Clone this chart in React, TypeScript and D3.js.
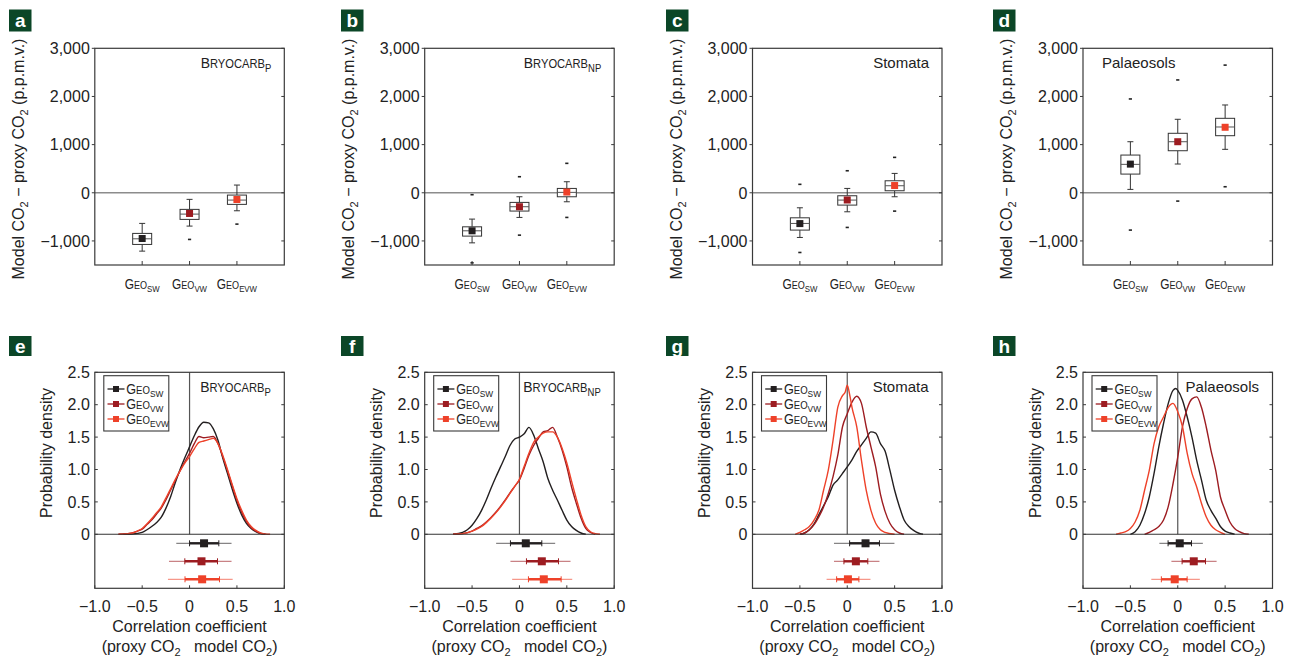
import React from 'react';
import * as d3 from 'd3';

const W = 1291;
const H = 660;
const FONT = '"Liberation Sans", Arial, Helvetica, sans-serif';

// series + panels
const seriesKeys = ['SW', 'VW', 'EVW'];
const seriesColors = ['#231f20', '#9d1c21', '#ee4129'];
const topLetters = ['a', 'b', 'c', 'd'];
const bottomLetters = ['e', 'f', 'g', 'h'];
const proxyNames = ['BryocarbP', 'BryocarbNP', 'Stomata', 'Palaeosols'];

const boxTicks = [3000, 2000, 1000, 0, -1000];
const densTicks = [0, 0.5, 1, 1.5, 2, 2.5];
const corrTicks = [-1, -0.5, 0, 0.5, 1];

// box plots: whisker lo, q1, median, q3, whisker hi, mean, outliers (p.p.m.v.)
const boxBryoP = [
  { lo: -1212, q1: -1073, med: -956, q3: -844, hi: -636, mean: -950, out: [] },
  { lo: -692, q1: -553, med: -443, q3: -345, hi: -137, mean: -430, out: [-969] },
  { lo: -374, q1: -241, med: -152, q3: -48, hi: 160, mean: -140, out: [-651] },
];
const boxBryoNP = [
  { lo: -1040, q1: -900, med: -790, q3: -707, hi: -547, mean: -790, out: [-40, -1455] },
  { lo: -512, q1: -380, med: -290, q3: -200, hi: -83, mean: -290, out: [333, -880] },
  { lo: -187, q1: -83, med: 8, q3: 90, hi: 229, mean: 15, out: [611, -512] },
];
const boxStomata = [
  { lo: -928, q1: -775, med: -637, q3: -520, hi: -312, mean: -640, out: [175, -1240] },
  { lo: -395, q1: -256, med: -152, q3: -62, hi: 90, mean: -150, out: [457, -720] },
  { lo: -83, q1: 42, med: 146, q3: 249, hi: 402, mean: 150, out: [735, -381] },
];
const boxPalaeo = [
  { lo: 70, q1: 388, med: 590, q3: 783, hi: 1060, mean: 595, out: [1948, -775] },
  { lo: 597, q1: 873, med: 1060, q3: 1235, hi: 1526, mean: 1060, out: [2343, -173] },
  { lo: 902, q1: 1185, med: 1366, q3: 1546, hi: 1823, mean: 1360, out: [2651, 125] },
];

// probability density curves [correlation, density]
const densBryoP_SW = [[-0.7, 0], [-0.6, 0.005], [-0.5, 0.03], [-0.45, 0.07], [-0.4, 0.12], [-0.35, 0.18], [-0.3, 0.26], [-0.25, 0.4], [-0.2, 0.58], [-0.15, 0.8], [-0.1, 1.0], [-0.05, 1.18], [0, 1.35], [0.05, 1.52], [0.1, 1.66], [0.15, 1.73], [0.2, 1.72], [0.25, 1.63], [0.3, 1.45], [0.35, 1.18], [0.4, 0.94], [0.45, 0.7], [0.5, 0.48], [0.55, 0.3], [0.6, 0.17], [0.65, 0.09], [0.7, 0.04], [0.75, 0.01], [0.8, 0]];
const densBryoP_VW = [[-0.75, 0], [-0.65, 0.01], [-0.55, 0.05], [-0.5, 0.08], [-0.45, 0.15], [-0.4, 0.22], [-0.35, 0.31], [-0.3, 0.4], [-0.25, 0.53], [-0.2, 0.68], [-0.15, 0.83], [-0.1, 0.98], [-0.05, 1.12], [0, 1.25], [0.05, 1.4], [0.1, 1.51], [0.15, 1.49], [0.2, 1.5], [0.25, 1.51], [0.3, 1.4], [0.35, 1.2], [0.4, 0.98], [0.45, 0.75], [0.5, 0.52], [0.55, 0.34], [0.6, 0.2], [0.65, 0.1], [0.7, 0.05], [0.75, 0.015], [0.8, 0]];
const densBryoP_EVW = [[-0.75, 0], [-0.65, 0.01], [-0.6, 0.02], [-0.55, 0.05], [-0.5, 0.09], [-0.45, 0.16], [-0.4, 0.24], [-0.35, 0.33], [-0.3, 0.42], [-0.25, 0.56], [-0.2, 0.7], [-0.15, 0.85], [-0.1, 0.98], [-0.05, 1.1], [0, 1.2], [0.05, 1.32], [0.1, 1.42], [0.15, 1.44], [0.2, 1.46], [0.25, 1.48], [0.3, 1.4], [0.35, 1.22], [0.4, 1.0], [0.45, 0.77], [0.5, 0.55], [0.55, 0.37], [0.6, 0.22], [0.65, 0.12], [0.7, 0.06], [0.75, 0.02], [0.8, 0.005], [0.85, 0]];

const densBryoNP_SW = [[-0.7, 0], [-0.6, 0.03], [-0.55, 0.07], [-0.5, 0.14], [-0.45, 0.24], [-0.4, 0.37], [-0.35, 0.53], [-0.3, 0.71], [-0.25, 0.88], [-0.2, 1.04], [-0.15, 1.2], [-0.1, 1.37], [-0.05, 1.47], [0, 1.5], [0.05, 1.55], [0.1, 1.65], [0.15, 1.53], [0.2, 1.32], [0.25, 1.12], [0.3, 0.86], [0.35, 0.68], [0.4, 0.53], [0.45, 0.37], [0.5, 0.22], [0.55, 0.12], [0.6, 0.06], [0.65, 0.02], [0.7, 0]];
const densBryoNP_VW = [[-0.7, 0], [-0.6, 0.01], [-0.5, 0.05], [-0.45, 0.09], [-0.4, 0.13], [-0.35, 0.19], [-0.3, 0.26], [-0.25, 0.34], [-0.2, 0.43], [-0.15, 0.53], [-0.1, 0.64], [-0.05, 0.74], [0, 0.84], [0.05, 1.02], [0.1, 1.22], [0.15, 1.37], [0.2, 1.48], [0.25, 1.58], [0.3, 1.6], [0.35, 1.65], [0.4, 1.5], [0.45, 1.3], [0.5, 1.04], [0.55, 0.73], [0.6, 0.48], [0.65, 0.25], [0.7, 0.09], [0.75, 0.03], [0.8, 0]];
const densBryoNP_EVW = [[-0.7, 0], [-0.6, 0.01], [-0.5, 0.05], [-0.45, 0.08], [-0.4, 0.12], [-0.35, 0.18], [-0.3, 0.25], [-0.25, 0.33], [-0.2, 0.42], [-0.15, 0.52], [-0.1, 0.63], [-0.05, 0.74], [0, 0.85], [0.05, 1.05], [0.1, 1.25], [0.15, 1.42], [0.2, 1.5], [0.25, 1.56], [0.3, 1.58], [0.35, 1.58], [0.4, 1.5], [0.45, 1.33], [0.5, 1.1], [0.55, 0.82], [0.6, 0.55], [0.65, 0.3], [0.7, 0.12], [0.75, 0.04], [0.8, 0.01], [0.85, 0]];

const densStomata_SW = [[-0.5, 0], [-0.45, 0.02], [-0.4, 0.07], [-0.35, 0.16], [-0.3, 0.3], [-0.25, 0.44], [-0.2, 0.58], [-0.15, 0.76], [-0.1, 0.84], [-0.05, 0.94], [0, 1.04], [0.05, 1.15], [0.1, 1.28], [0.15, 1.38], [0.2, 1.48], [0.25, 1.58], [0.3, 1.56], [0.35, 1.4], [0.4, 1.28], [0.45, 0.99], [0.5, 0.68], [0.55, 0.43], [0.6, 0.22], [0.65, 0.12], [0.7, 0.06], [0.75, 0.02], [0.8, 0]];
const densStomata_VW = [[-0.5, 0], [-0.45, 0.02], [-0.4, 0.07], [-0.35, 0.15], [-0.3, 0.27], [-0.25, 0.42], [-0.2, 0.63], [-0.15, 0.89], [-0.1, 1.22], [-0.05, 1.66], [0, 1.86], [0.05, 2.04], [0.1, 2.13], [0.15, 2.02], [0.2, 1.66], [0.25, 1.35], [0.3, 1.04], [0.35, 0.62], [0.4, 0.35], [0.45, 0.17], [0.5, 0.07], [0.55, 0.02], [0.6, 0]];
const densStomata_EVW = [[-0.55, 0], [-0.5, 0.03], [-0.45, 0.07], [-0.4, 0.12], [-0.35, 0.22], [-0.3, 0.37], [-0.25, 0.68], [-0.2, 0.99], [-0.15, 1.45], [-0.1, 1.96], [-0.05, 2.14], [-0.02, 2.2], [0, 2.3], [0.03, 2.12], [0.05, 1.96], [0.1, 1.66], [0.15, 1.14], [0.2, 0.68], [0.25, 0.37], [0.3, 0.17], [0.35, 0.07], [0.4, 0.03], [0.5, 0]];

const densPalaeo_SW = [[-0.5, 0], [-0.45, 0.04], [-0.4, 0.14], [-0.35, 0.32], [-0.3, 0.58], [-0.25, 0.94], [-0.2, 1.35], [-0.15, 1.71], [-0.1, 2.02], [-0.05, 2.22], [-0.02, 2.25], [0, 2.22], [0.05, 2.07], [0.1, 1.81], [0.15, 1.5], [0.2, 1.14], [0.25, 0.84], [0.3, 0.53], [0.35, 0.37], [0.4, 0.25], [0.45, 0.12], [0.5, 0.05], [0.55, 0.02], [0.6, 0]];
const densPalaeo_VW = [[-0.35, 0], [-0.3, 0.03], [-0.25, 0.07], [-0.2, 0.12], [-0.15, 0.22], [-0.1, 0.43], [-0.05, 0.78], [0, 1.19], [0.05, 1.66], [0.1, 1.94], [0.15, 2.09], [0.2, 2.12], [0.25, 1.96], [0.3, 1.66], [0.35, 1.3], [0.4, 0.99], [0.45, 0.58], [0.5, 0.37], [0.55, 0.19], [0.6, 0.09], [0.65, 0.04], [0.7, 0.01], [0.75, 0]];
const densPalaeo_EVW = [[-0.65, 0], [-0.6, 0.02], [-0.55, 0.04], [-0.5, 0.09], [-0.45, 0.19], [-0.4, 0.37], [-0.35, 0.68], [-0.3, 0.99], [-0.25, 1.4], [-0.2, 1.66], [-0.15, 1.81], [-0.1, 1.96], [-0.05, 2.02], [0, 1.89], [0.05, 1.66], [0.1, 1.25], [0.15, 0.94], [0.2, 0.73], [0.25, 0.48], [0.3, 0.27], [0.35, 0.14], [0.4, 0.07], [0.45, 0.03], [0.5, 0]];

// correlation summaries: [lo95, lo68, mean, hi68, hi95]
const ciBryoP = [[-0.14, 0.0, 0.153, 0.309, 0.443], [-0.217, -0.05, 0.126, 0.295, 0.443], [-0.228, -0.048, 0.133, 0.316, 0.455]];
const ciBryoNP = [[-0.246, -0.095, 0.067, 0.236, 0.377], [-0.095, 0.074, 0.236, 0.412, 0.539], [-0.077, 0.095, 0.257, 0.44, 0.557]];
const ciStomata = [[-0.14, 0.025, 0.193, 0.34, 0.498], [-0.14, -0.035, 0.091, 0.217, 0.34], [-0.218, -0.112, 0.007, 0.123, 0.245]];
const ciPalaeo = [[-0.194, -0.102, 0.021, 0.145, 0.265], [-0.067, 0.046, 0.169, 0.293, 0.41], [-0.279, -0.173, -0.032, 0.099, 0.233]];

const boxData = [boxBryoP, boxBryoNP, boxStomata, boxPalaeo];
const densData = [
  [densBryoP_SW, densBryoP_VW, densBryoP_EVW],
  [densBryoNP_SW, densBryoNP_VW, densBryoNP_EVW],
  [densStomata_SW, densStomata_VW, densStomata_EVW],
  [densPalaeo_SW, densPalaeo_VW, densPalaeo_EVW],
];
const ciData = [ciBryoP, ciBryoNP, ciStomata, ciPalaeo];

// layout
const colLeft = [94.8, 424.7, 752.5, 1083];
const plotW = 189.5;
const tagX = [9, 341, 666, 993];
const topFrame = { top: 48.3, bottom: 265 };
const botFrame = { top: 372.3, zero: 534.3, bottom: 588.3 };
const frameColor = '#3a3a3a';

const fmtThousands = d3.format(',');
const fmtDens = (d: number) => (d === 0 ? '0' : d3.format('.1f')(d));
const fmtCorr = (d: number) => (d === 0 ? '0' : d3.format('.1f')(d));

function Tag({ x, y, h, letter }: any) {
  return (
    <g>
      <rect x={x} y={y} width={22.5} height={h} fill="#0b4627" />
      <text x={x + 11.25} y={y + h / 2 + 6.5} textAnchor="middle" fill="#fff" fontWeight="bold" fontSize={19}>
        {letter}
      </text>
    </g>
  );
}

function GeoText({ x, y, sub, size, anchor, sx }: any) {
  return (
    <text transform={`translate(${x},${y}) scale(${sx},1)`} textAnchor={anchor} fontSize={size} fill="#222">
      <tspan>G</tspan>
      <tspan fontSize={size * 0.76}>EO</tspan>
      <tspan fontSize={size * 0.66} dy={size * 0.22}>{sub}</tspan>
    </text>
  );
}

function ProxyLabel({ name, x, y, anchor }: any) {
  const size = 15;
  if (name === 'BryocarbP' || name === 'BryocarbNP') {
    return (
      <text transform={`translate(${x},${y}) scale(0.93,1)`} textAnchor={anchor} fontSize={size} fill="#222">
        <tspan>B</tspan>
        <tspan fontSize={size * 0.8}>RYOCARB</tspan>
        <tspan fontSize={size * 0.68} dy={4}>{name === 'BryocarbP' ? 'P' : 'NP'}</tspan>
      </text>
    );
  }
  return (
    <text x={x} y={y} textAnchor={anchor} fontSize={size} fill="#222">
      {name}
    </text>
  );
}

function BoxPanel({ col }: any) {
  const left = colLeft[col];
  const right = left + plotW;
  const boxes = boxData[col];
  const x = d3.scaleLinear().domain([0, 4]).range([left, right]);
  const y = d3.scaleLinear().domain([-1500, 3000]).range([topFrame.bottom, topFrame.top]);
  const bw = 19;
  const cap = 6;
  const ms = 7;
  const name = proxyNames[col];
  return (
    <g>
      <Tag x={tagX[col]} y={9.5} h={22} letter={topLetters[col]} />
      <line x1={left} x2={right} y1={y(0)} y2={y(0)} stroke="#8c8c8c" strokeWidth={1.6} />
      {boxes.map((b: any, i: number) => {
        const cx = x(i + 1);
        return (
          <g key={i} stroke="#333" strokeWidth={1}>
            <line x1={cx} x2={cx} y1={y(b.hi)} y2={y(b.q3)} />
            <line x1={cx} x2={cx} y1={y(b.q1)} y2={y(b.lo)} />
            <line x1={cx - cap / 2} x2={cx + cap / 2} y1={y(b.hi)} y2={y(b.hi)} />
            <line x1={cx - cap / 2} x2={cx + cap / 2} y1={y(b.lo)} y2={y(b.lo)} />
            <rect x={cx - bw / 2} y={y(b.q3)} width={bw} height={y(b.q1) - y(b.q3)} fill="#fff" />
            <line x1={cx - bw / 2} x2={cx + bw / 2} y1={y(b.med)} y2={y(b.med)} stroke="#555" />
            <rect x={cx - ms / 2} y={y(b.mean) - ms / 2} width={ms} height={ms} fill={seriesColors[i]} stroke="none" />
            {b.out.map((o: number, k: number) => (
              <line key={k} x1={cx - 1.6} x2={cx + 1.6} y1={y(o)} y2={y(o)} stroke="#222" strokeWidth={1.6} />
            ))}
          </g>
        );
      })}
      <rect x={left} y={topFrame.top} width={plotW} height={topFrame.bottom - topFrame.top} fill="none" stroke={frameColor} strokeWidth={1.2} />
      {boxTicks.map((t) => (
        <g key={t}>
          <line x1={left - 3} x2={left} y1={y(t)} y2={y(t)} stroke={frameColor} />
          <line x1={right - 3} x2={right} y1={y(t)} y2={y(t)} stroke={frameColor} />
          <text x={left - 5} y={y(t)} dy="0.36em" textAnchor="end" fontSize={16} fill="#222">
            {fmtThousands(t)}
          </text>
        </g>
      ))}
      {seriesKeys.map((s, i) => (
        <g key={s}>
          <line x1={x(i + 1)} x2={x(i + 1)} y1={topFrame.bottom} y2={topFrame.bottom - 4} stroke={frameColor} />
          <GeoText x={x(i + 1)} y={289} sub={s} size={14} anchor="middle" sx={0.85} />
        </g>
      ))}
      <text transform={`translate(${left - 71},159) rotate(-90)`} textAnchor="middle" fontSize={16} fill="#222">
        Model CO<tspan fontSize={11} dy={4}>2</tspan>
        <tspan dy={-4}> − proxy CO</tspan>
        <tspan fontSize={11} dy={4}>2</tspan>
        <tspan dy={-4}> (p.p.m.v.)</tspan>
      </text>
      {name === 'Palaeosols' ? (
        <ProxyLabel name={name} x={left + 19} y={68} anchor="start" />
      ) : (
        <ProxyLabel name={name} x={right - 13} y={68} anchor="end" />
      )}
    </g>
  );
}

function DensPanel({ col }: any) {
  const left = colLeft[col];
  const right = left + plotW;
  const curves = densData[col];
  const cis = ciData[col];
  const x = d3.scaleLinear().domain([-1, 1]).range([left, right]);
  const y = d3.scaleLinear().domain([0, 2.5]).range([botFrame.zero, botFrame.top]);
  const line = d3
    .line<number[]>()
    .x((d) => x(d[0]))
    .y((d) => y(d[1]))
    .curve(d3.curveMonotoneX);
  const rowY = [9, 27, 45];
  const lgTop = botFrame.top + 3.4;
  const lgRows = [16.7, 31.7, 46.7];
  return (
    <g>
      <Tag x={tagX[col]} y={336} h={20} letter={bottomLetters[col]} />
      <line x1={x(0)} x2={x(0)} y1={botFrame.top} y2={botFrame.zero} stroke="#555" strokeWidth={1.2} />
      {curves.map((c: any, i: number) => (
        <path key={i} d={line(c) || ''} fill="none" stroke={seriesColors[i]} strokeWidth={1.4} />
      ))}
      <line x1={left} x2={right} y1={botFrame.zero} y2={botFrame.zero} stroke="#333" strokeWidth={1.1} />
      {cis.map((c: number[], i: number) => {
        const yy = botFrame.zero + rowY[i];
        const col2 = seriesColors[i];
        return (
          <g key={i}>
            <line x1={x(c[0])} x2={x(c[4])} y1={yy} y2={yy} stroke={col2} strokeOpacity={0.55} strokeWidth={1.3} />
            <line x1={x(c[1])} x2={x(c[3])} y1={yy} y2={yy} stroke={col2} strokeWidth={2.4} />
            <line x1={x(c[1])} x2={x(c[1])} y1={yy - 3} y2={yy + 3} stroke={col2} strokeWidth={1} />
            <line x1={x(c[3])} x2={x(c[3])} y1={yy - 3} y2={yy + 3} stroke={col2} strokeWidth={1} />
            <rect x={x(c[2]) - 4} y={yy - 4} width={8} height={8} fill={col2} />
          </g>
        );
      })}
      <rect x={left} y={botFrame.top} width={plotW} height={botFrame.bottom - botFrame.top} fill="none" stroke={frameColor} strokeWidth={1.2} />
      {densTicks.map((t) => (
        <g key={t}>
          <line x1={left} x2={left + 3} y1={y(t)} y2={y(t)} stroke={frameColor} />
          <line x1={right - 3} x2={right} y1={y(t)} y2={y(t)} stroke={frameColor} />
          <text x={left - 5} y={y(t)} dy="0.36em" textAnchor="end" fontSize={16} fill="#222">
            {fmtDens(t)}
          </text>
        </g>
      ))}
      {corrTicks.map((t) => (
        <g key={t}>
          <line x1={x(t)} x2={x(t)} y1={botFrame.bottom} y2={botFrame.bottom - 3} stroke={frameColor} />
          <text x={x(t)} y={612} textAnchor="middle" fontSize={16} fill="#222">
            {fmtCorr(t)}
          </text>
        </g>
      ))}
      <text x={(left + right) / 2} y={631.5} textAnchor="middle" fontSize={16} fill="#222">
        Correlation coefficient
      </text>
      <text x={(left + right) / 2} y={652} textAnchor="middle" fontSize={16} fill="#222" style={{ whiteSpace: 'pre' }}>
        (proxy CO<tspan fontSize={11} dy={4}>2</tspan>
        <tspan dy={-4}>{'   model CO'}</tspan>
        <tspan fontSize={11} dy={4}>2</tspan>
        <tspan dy={-4}>)</tspan>
      </text>
      <text transform={`translate(${left - 42.5},453) rotate(-90)`} textAnchor="middle" fontSize={16} fill="#222">
        Probability density
      </text>
      <rect x={left + 9} y={lgTop} width={65} height={55.3} fill="#fff" stroke={frameColor} strokeWidth={1.1} />
      {seriesKeys.map((s, i) => {
        const ly = botFrame.top + lgRows[i];
        return (
          <g key={s}>
            <line x1={left + 12.7} x2={left + 29.7} y1={ly} y2={ly} stroke={seriesColors[i]} strokeWidth={1.3} />
            <rect x={left + 18.2} y={ly - 3} width={6} height={6} fill={seriesColors[i]} />
            <GeoText x={left + 31.5} y={ly + 5} sub={s} size={14} anchor="start" sx={0.9} />
          </g>
        );
      })}
      <ProxyLabel name={proxyNames[col]} x={right - 13.5} y={392} anchor="end" />
    </g>
  );
}

export default function App() {
  return (
    <svg
      width={W}
      height={H}
      viewBox={`0 0 ${W} ${H}`}
      style={{ position: 'absolute', left: 0, top: 0, background: '#fff' }}
      fontFamily={FONT}
    >
      {[0, 1, 2, 3].map((c) => (
        <BoxPanel key={`b${c}`} col={c} />
      ))}
      {[0, 1, 2, 3].map((c) => (
        <DensPanel key={`d${c}`} col={c} />
      ))}
    </svg>
  );
}
